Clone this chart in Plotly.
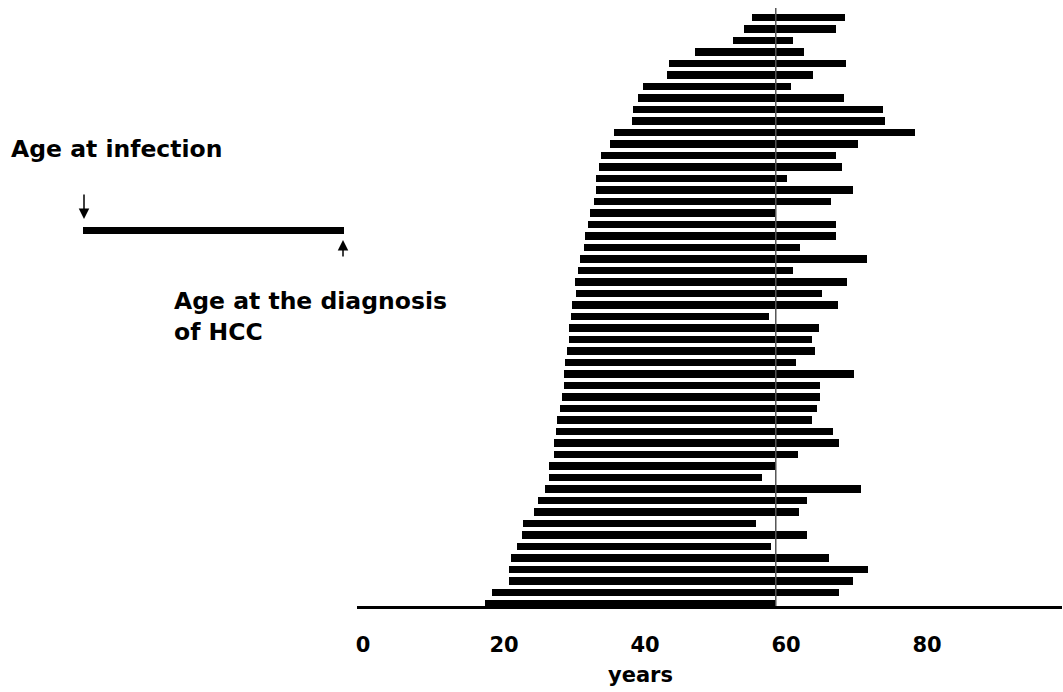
import plotly.graph_objects as go

# Patients listed top to bottom as drawn
age_infection = [56.0, 54.9, 53.4, 47.9, 44.2, 44.0, 40.5, 39.9, 39.2, 39.0,
                 36.4, 35.9, 34.6, 34.3, 33.9, 33.9, 33.6, 33.0, 32.7, 32.4,
                 32.2, 31.7, 31.4, 30.9, 31.0, 30.5, 30.3, 30.0, 30.1, 29.8,
                 29.5, 29.3, 29.4, 29.1, 28.8, 28.3, 28.2, 27.9, 27.9, 27.3,
                 27.3, 26.7, 25.7, 25.1, 23.5, 23.4, 22.7, 21.9, 21.5, 21.5,
                 19.1, 18.2]
age_diagnosis = [69.2, 68.0, 61.9, 63.4, 69.3, 64.7, 61.5, 69.1, 74.6, 74.9,
                 79.2, 71.0, 67.9, 68.8, 61.0, 70.3, 67.2, 59.3, 68.0, 68.0,
                 62.9, 72.4, 61.9, 69.5, 65.9, 68.2, 58.4, 65.6, 64.5, 64.9,
                 62.3, 70.5, 65.7, 65.7, 65.2, 64.6, 67.5, 68.3, 62.5, 59.5,
                 57.5, 71.5, 63.8, 62.7, 56.6, 63.8, 58.7, 67.0, 72.5, 70.4,
                 68.3, 59.5]
tick_values = [0, 20, 40, 60, 80]
tick_labels = ["0", "20", "40", "60", "80"]
reference_age = 59.4

n = len(age_infection)
ypos = [n - i for i in range(n)]
durations = [d - s for s, d in zip(age_infection, age_diagnosis)]

W, H = 1063, 692
L, R = 357, 1062      # plot area pixel extents
T, B = 0, 606

def px_x(p):
    return (p - L) / (R - L)

def px_y(p):
    return (B - p) / (B - T)

spacing = (604 - 17.7) / (n - 1)
y_low = 1 - (B - 604) / spacing
y_high = 1 + (604 - T) / spacing

FONT = "DejaVu Sans"

fig = go.Figure()
fig.add_trace(go.Bar(
    y=ypos, x=durations, base=age_infection, orientation="h",
    width=0.66, marker=dict(color="black", line=dict(width=0)),
    hoverinfo="skip", showlegend=False,
))

# reference line at ~60 years
fig.add_shape(type="line", xref="x", yref="y",
              x0=reference_age, x1=reference_age,
              y0=y_low, y1=1 + (604 - 8) / spacing,
              line=dict(color="#555555", width=1.5), layer="above")

# legend sketch on the left
fig.add_shape(type="rect", xref="paper", yref="paper",
              x0=px_x(83), x1=px_x(344), y0=px_y(234), y1=px_y(227),
              fillcolor="black", line=dict(width=0))

annotations = [
    dict(text="<b>Age at infection</b>", x=px_x(9), y=px_y(149),
         xanchor="left", yanchor="middle", showarrow=False,
         font=dict(family=FONT, size=23.5, color="black")),
    dict(text="<b>Age at the diagnosis<br>of HCC</b>", x=px_x(172), y=px_y(316),
         xanchor="left", yanchor="middle", showarrow=False, align="left",
         font=dict(family=FONT, size=23.5, color="black")),
    dict(text="<b>years</b>", x=px_x(640), y=px_y(675),
         xanchor="center", yanchor="middle", showarrow=False,
         font=dict(family=FONT, size=21, color="black")),
    # down arrow to start of legend bar
    dict(text="", x=px_x(84), y=px_y(219), xref="paper", yref="paper",
         showarrow=True, ax=0, ay=-26, arrowhead=2, arrowsize=1.4,
         arrowwidth=1.5, arrowcolor="black"),
    # up arrow to end of legend bar
    dict(text="", x=px_x(343), y=px_y(240), xref="paper", yref="paper",
         showarrow=True, ax=0, ay=18, arrowhead=2, arrowsize=1.4,
         arrowwidth=1.5, arrowcolor="black"),
]
for a in annotations:
    a.setdefault("xref", "paper")
    a.setdefault("yref", "paper")
fig.update_layout(annotations=annotations)

fig.update_layout(
    width=W, height=H,
    margin=dict(l=L, r=W - R, t=T, b=H - B, pad=0),
    paper_bgcolor="white", plot_bgcolor="white",
    bargap=0,
    xaxis=dict(range=[0, 100], showgrid=False, zeroline=False,
               showline=True, linecolor="black", linewidth=3,
               ticks="", tickvals=tick_values,
               ticktext=["<b>%s</b>" % t for t in tick_labels],
               tickfont=dict(family=FONT, size=21, color="black"),
               ticklabelshift=6, ticklabelstandoff=18, fixedrange=True),
    yaxis=dict(range=[y_low, y_high], visible=False, showgrid=False,
               zeroline=False, fixedrange=True),
)

fig.write_html("out.html",
               config={"displayModeBar": False, "staticPlot": True},
               post_script="document.body.style.margin='0';"
                           "document.body.style.overflow='hidden';")
